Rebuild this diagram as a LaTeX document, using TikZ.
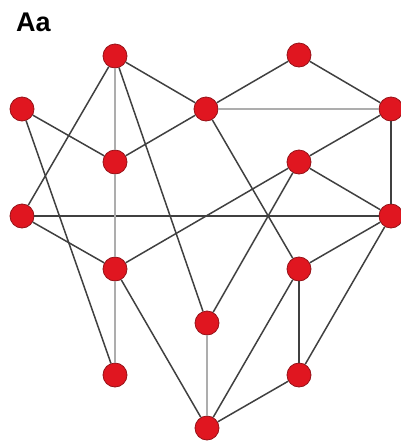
\documentclass[tikz,border=0pt]{standalone}
\usepackage{fontspec}
\setsansfont{Liberation Sans}
\usetikzlibrary{positioning}
\definecolor{vred}{RGB}{224,22,32}
\definecolor{vrim}{RGB}{150,18,24}
\tikzset{
  vtx/.style={circle,draw=vrim,fill=vred,minimum size=24pt,inner sep=0pt,line width=0.8pt},
  lnk/.style={line width=1.5pt,black!75},
  glnk/.style={line width=2pt,black!32},
  tag/.style={font=\fontsize{27}{30}\selectfont\sffamily\bfseries,inner sep=0pt,anchor=base west},
}

\begin{document}
\begin{tikzpicture}[x=1pt,y=-1pt]
  \useasboundingbox (0,0) rectangle (400,445);
  \node[tag] (lbl) at (16,31) {Aa};
  % vertices, row by row
  \node[vtx] (a) at (115,56) {};
  \node[vtx] (b) at (299,55) {};
  \node[vtx] (c) at (22,109) {};
  \node[vtx] (d) at (206,109) {};
  \node[vtx] (e) at (391,109) {};
  \node[vtx] (f) at (115,162) {};
  \node[vtx] (g) at (299,162) {};
  \node[vtx] (h) at (22,216) {};
  \node[vtx] (i) at (391,216) {};
  \node[vtx] (j) at (115,269) {};
  \node[vtx] (k) at (299,269) {};
  \node[vtx] (l) at (207,323) {};
  \node[vtx] (m) at (115,375) {};
  \node[vtx] (n) at (299,375) {};
  \node[vtx] (o) at (207,428) {};
  % dark edges
  \foreach \u/\v in {a/d,a/h,a/l,b/d,b/e,c/f,c/m,f/d,d/k,e/g,e/i,g/i,g/j,g/l,
                     h/i,h/j,j/o,k/i,k/n,k/o,n/i,n/o}
    \draw[lnk] (\u) -- (\v);
  % grey edges
  \foreach \u/\v in {a/f,f/j,j/m,l/o,d/e}
    \draw[glnk] (\u) -- (\v);
\end{tikzpicture}
\end{document}
